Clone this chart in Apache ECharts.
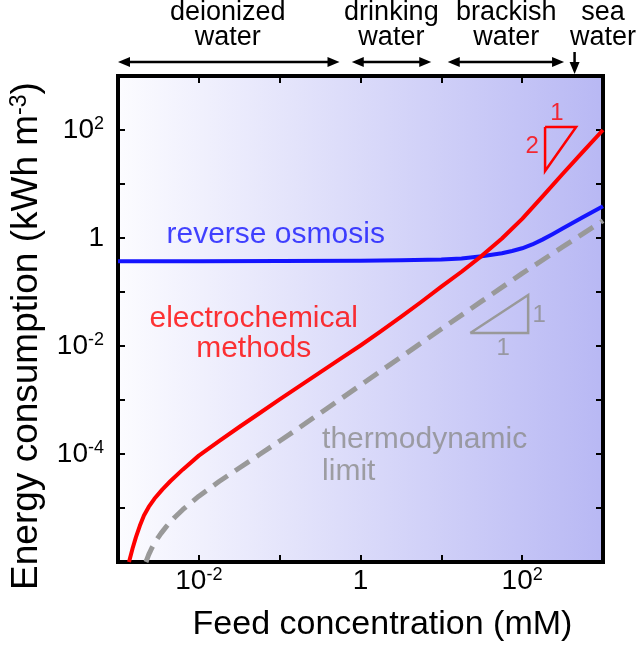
<!DOCTYPE html>
<html>
<head>
<meta charset="utf-8">
<script src="https://cdn.jsdelivr.net/npm/echarts@6/dist/echarts.min.js"></script>
<style>
html,body{margin:0;padding:0;background:#fff;}
#c{width:640px;height:647px;}
</style>
</head>
<body>
<div id="c"></div>
<script>
// ---- data ----
const roX = [0.001, 0.01, 0.1, 1, 3.162, 10, 17.78, 31.62, 56.23, 74.99, 100, 133.4, 177.8, 237.1, 316.2, 562.3, 1000];
const roY = [0.3715, 0.3715, 0.3758, 0.3802, 0.389, 0.3981, 0.4188, 0.4592, 0.5212, 0.5754, 0.6457, 0.7586, 0.9333, 1.175, 1.496, 2.427, 3.890];

const ecX = [0.001368, 0.001514, 0.001667, 0.001862, 0.002094, 0.002399, 0.002818, 0.003548, 0.004467, 0.00631, 0.01, 0.01778, 0.03162, 0.05623, 0.1, 0.1778, 0.3162, 0.5623, 1, 1.778, 3.162, 5.623, 10, 17.78, 31.62, 56.23, 100, 177.8, 316.2, 562.3, 1000];
const ecY = [1.0e-6, 1.778e-6, 2.884e-6, 4.677e-6, 7.244e-6, 1.047e-5, 1.479e-5, 2.213e-5, 3.162e-5, 5.129e-5, 9.333e-5, 1.738e-4, 3.162e-4, 5.689e-4, 1.023e-3, 1.820e-3, 3.236e-3, 5.754e-3, 0.01023, 0.01862, 0.03467, 0.06531, 0.1259, 0.2371, 0.4677, 0.9772, 2.265, 5.821, 15.31, 39.36, 100];

const tdX = [0.002218, 0.002399, 0.00263, 0.002951, 0.003388, 0.003981, 0.005012, 0.00631, 0.01, 0.01778, 0.03162, 0.05623, 0.1, 0.1778, 0.3162, 0.5623, 1, 3.162, 10, 31.62, 100, 316.2, 1000];
const tdY = [1e-6, 1.368e-6, 1.837e-6, 2.477e-6, 3.357e-6, 4.56e-6, 6.668e-6, 9.311e-6, 1.656e-5, 3.09e-5, 5.495e-5, 9.772e-5, 1.738e-4, 3.126e-4, 5.689e-4, 1.035e-3, 1.884e-3, 6.237e-3, 0.02065, 0.0676, 0.2213, 0.6839, 2.089];

const curveLabels = ['reverse osmosis', 'electrochemical\nmethods', 'thermodynamic\nlimit'];
const curveLabelPos = [[0.0893, 1.14], [0.0477, 0.0167], [0.330, 9.2e-5]];

const redTriX = [192, 465, 192, 192];
const redTriY = [114, 114, 17.4, 114];
const redTriLabels = ['1', '2'];
const redTriLabelPos = [[270, 207], [133, 50.6]];

const grayTriX = [22.8, 118.6, 118.6, 22.8];
const grayTriY = [0.0174, 0.0174, 0.088, 0.0174];
const grayTriLabels = ['1', '1'];
const grayTriLabelPos = [[162, 0.0375], [58.2, 0.00918]];

const waterLabels = ['deionized\nwater', 'drinking\nwater', 'brackish\nwater', 'sea\nwater'];
const waterLabelX = [0.0228, 2.41, 63.4, 1000];
const waterRanges = [[0.001, 0.55], [0.78, 7.5], [12, 330]];
const seaArrowX = 445;

const xTickLabels = { '-2': '10^-2', '0': '1', '2': '10^2' };
const yTickLabels = { '-4': '10^-4', '-2': '10^-2', '0': '1', '2': '10^2' };

// ---- helpers ----
const FONT = 'Liberation Sans, Arial, sans-serif';
const zip = (a, b) => a.map((v, i) => [v, b[i]]);
function tickFmt(map) {
  return function (v) {
    const e = Math.round(Math.log10(v));
    const s = map[String(e)];
    if (!s) return '';
    if (s.indexOf('^') < 0) return '{b|' + s + '}';
    const p = s.split('^');
    return '{b|' + p[0] + '}{s|' + p[1] + '}';
  };
}
const tickRich = {
  b: { fontSize: 28, lineHeight: 30, color: '#000', fontFamily: FONT },
  s: { fontSize: 18, lineHeight: 18, color: '#000', fontFamily: FONT, verticalAlign: 'top' }
};

const chart = echarts.init(document.getElementById('c'), null, { renderer: 'canvas' });

const gridLeft = 117, gridTop = 76, gridW = 486, gridH = 486;

function textSeries(pos, names, color, size, lh, position, align) {
  return {
    type: 'scatter', xAxisIndex: 0, yAxisIndex: 0,
    symbolSize: 1, itemStyle: { color: 'rgba(0,0,0,0)' }, silent: true, z: 5,
    data: pos.map((p, i) => ({ value: p, name: names[i] })),
    label: {
      show: true, formatter: '{b}', position: position, distance: 0,
      color: color, fontSize: size, lineHeight: lh, fontFamily: FONT, align: align
    }
  };
}

function curve(name, xs, ys, color, width, type, z) {
  return {
    name: name, type: 'line', xAxisIndex: 0, yAxisIndex: 0,
    data: zip(xs, ys), showSymbol: false, smooth: false, z: z,
    lineStyle: { color: color, width: width, type: type, join: 'round', cap: 'butt' }
  };
}

const option = {
  animation: false,
  backgroundColor: '#fff',
  textStyle: { fontFamily: FONT },
  grid: {
    left: gridLeft, top: gridTop, width: gridW, height: gridH,
    show: true, borderColor: '#000', borderWidth: 4,
    backgroundColor: {
      type: 'linear', x: 0, y: 0, x2: 1, y2: 0,
      colorStops: [{ offset: 0, color: '#fcfcff' }, { offset: 1, color: '#b8b8f4' }]
    }
  },
  xAxis: [{
    type: 'log', logBase: 10, min: 0.001, max: 1000,
    position: 'bottom',
    name: 'Feed concentration (mM)', nameLocation: 'middle', nameGap: 46,
    nameTextStyle: { fontSize: 34, color: '#000', fontFamily: FONT, padding: [0, 0, 0, 44] },
    axisLine: { show: false },
    axisTick: { show: true, inside: true, length: 7, lineStyle: { color: '#000', width: 2 } },
    minorTick: { show: false },
    splitLine: { show: false },
    axisLabel: { show: true, margin: 4, formatter: tickFmt(xTickLabels), rich: tickRich, showMinLabel: false, showMaxLabel: false }
  }, {
    type: 'log', logBase: 10, min: 0.001, max: 1000,
    position: 'top',
    axisLine: { show: false },
    axisTick: { show: true, inside: true, length: 7, lineStyle: { color: '#000', width: 2 } },
    splitLine: { show: false },
    axisLabel: { show: false }
  }],
  yAxis: [{
    type: 'log', logBase: 10, min: 1e-6, max: 1000,
    position: 'left',
    name: '{a|Energy consumption (kWh m}{s|-3}{a|)}', nameLocation: 'middle', nameGap: 72, nameRotate: 90,
    nameTextStyle: {
      padding: [0, 34, 0, 0],
      rich: {
        a: { fontSize: 37, lineHeight: 38, color: '#000', fontFamily: FONT },
        s: { fontSize: 23, lineHeight: 23, color: '#000', fontFamily: FONT, verticalAlign: 'top' }
      }
    },
    axisLine: { show: false },
    axisTick: { show: true, inside: true, length: 7, lineStyle: { color: '#000', width: 2 } },
    splitLine: { show: false },
    axisLabel: { show: true, margin: 14, formatter: tickFmt(yTickLabels), rich: tickRich, showMinLabel: false, showMaxLabel: false }
  }, {
    type: 'log', logBase: 10, min: 1e-6, max: 1000,
    position: 'right',
    axisLine: { show: false },
    axisTick: { show: true, inside: true, length: 7, lineStyle: { color: '#000', width: 2 } },
    splitLine: { show: false },
    axisLabel: { show: false }
  }],
  series: [
    curve('reverse osmosis', roX, roY, '#1414ff', 4, 'solid', 3),
    curve('thermodynamic limit', tdX, tdY, '#999999', 5, [17, 9], 2),
    curve('electrochemical methods', ecX, ecY, '#ff0000', 4, 'solid', 4),
    {
      name: 'slope2', type: 'line', xAxisIndex: 0, yAxisIndex: 0,
      data: zip(redTriX, redTriY), showSymbol: false, smooth: false, z: 3,
      lineStyle: { color: '#ff0000', width: 2.5, join: 'miter' }
    },
    {
      name: 'slope1', type: 'line', xAxisIndex: 0, yAxisIndex: 0,
      data: zip(grayTriX, grayTriY), showSymbol: false, smooth: false, z: 3,
      lineStyle: { color: '#999999', width: 2.5, join: 'miter' }
    },
    textSeries([curveLabelPos[0]], [curveLabels[0]], '#1414ff', 30, 30, 'inside', 'center'),
    textSeries([curveLabelPos[1]], [curveLabels[1]], '#ff0000', 30, 30, 'inside', 'center'),
    textSeries([curveLabelPos[2]], [curveLabels[2]], '#8c8c8c', 30, 32, 'right', 'left'),
    textSeries(redTriLabelPos, redTriLabels, '#ff0000', 24, 24, 'inside', 'center'),
    textSeries(grayTriLabelPos, grayTriLabels, '#8c8c8c', 24, 24, 'inside', 'center')
  ]
};
chart.setOption(option);

// ---- top annotations (positions from the x axis scale) ----
const px = v => chart.convertToPixel({ xAxisIndex: 0 }, v);
const arrowY = 62, headL = 12, headH = 5;
const g = [];
waterLabels.forEach((t, i) => {
  g.push({
    type: 'text', x: px(waterLabelX[i]), y: 0, z: 10,
    style: { text: t, font: '27px ' + FONT, fill: '#000', align: 'center', verticalAlign: 'top', lineHeight: 25 }
  });
});
waterRanges.forEach(r => {
  const x1 = px(r[0]), x2 = px(r[1]);
  g.push({ type: 'line', z: 10, shape: { x1: x1 + headL - 2, y1: arrowY, x2: x2 - headL + 2, y2: arrowY }, style: { stroke: '#000', lineWidth: 2.5 } });
  g.push({ type: 'polygon', z: 10, shape: { points: [[x1, arrowY], [x1 + headL, arrowY - headH], [x1 + headL, arrowY + headH]] }, style: { fill: '#000' } });
  g.push({ type: 'polygon', z: 10, shape: { points: [[x2, arrowY], [x2 - headL, arrowY - headH], [x2 - headL, arrowY + headH]] }, style: { fill: '#000' } });
});
const sx = px(seaArrowX);
g.push({ type: 'line', z: 10, shape: { x1: sx, y1: 52, x2: sx, y2: 64 }, style: { stroke: '#000', lineWidth: 2.5 } });
g.push({ type: 'polygon', z: 10, shape: { points: [[sx, 74], [sx - 5, 62], [sx + 5, 62]] }, style: { fill: '#000' } });
chart.setOption({ graphic: g });
</script>
</body>
</html>
